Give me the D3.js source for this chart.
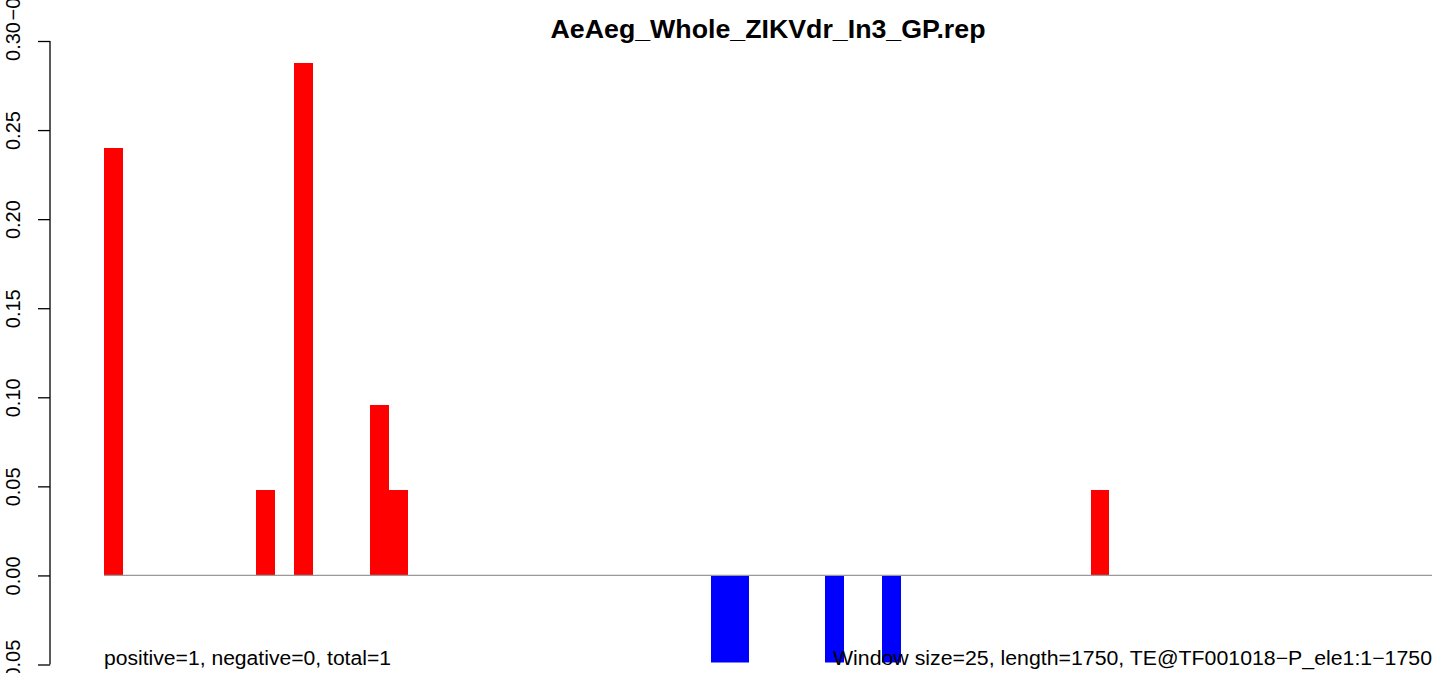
<!DOCTYPE html>
<html>
<head>
<meta charset="utf-8">
<script src="https://cdn.jsdelivr.net/npm/d3@7"></script>
<style>
  body { margin: 0; background: #fff; }
  text { font-family: "Liberation Sans", Arial, sans-serif; }
</style>
</head>
<body>
<div id="chart"></div>
<script>
var W = 1444, H = 673;

// 25bp windows along a 1750bp element (70 bins); only non-empty bins listed
var binIndex = [0, 8, 10, 14, 15, 32, 33, 38, 41, 52];
var binValue = [0.2397, 0.0479, 0.2877, 0.0959, 0.0479, -0.06, -0.06, -0.06, -0.06, 0.0479];
var nBins = 70;
var yTicks = [-0.05, 0, 0.05, 0.10, 0.15, 0.20, 0.25, 0.30];

var title = "AeAeg_Whole_ZIKVdr_In3_GP.rep";
var leftNote = "positive=1, negative=0, total=1";
var rightNote = "Window size=25, length=1750, TE@TF001018\u2212P_ele1:1\u22121750";

var svg = d3.select("#chart").append("svg")
    .attr("width", W)
    .attr("height", H);

var x = d3.scaleLinear().domain([0, nBins]).range([104, 1432]);
var y = d3.scaleLinear().domain([-0.05, 0.30]).range([664.5, 41]);

svg.append("clipPath").attr("id", "plotclip")
  .append("rect")
    .attr("x", 0).attr("y", y(0.30))
    .attr("width", W).attr("height", y(-0.05) - y(0.30) - 2);

svg.append("g")
    .attr("clip-path", "url(#plotclip)")
  .selectAll("rect")
  .data(binIndex)
  .join("rect")
    .attr("x", function (d) { return x(d); })
    .attr("width", function (d) { return x(d + 1) - x(d); })
    .attr("y", function (d, i) { return y(Math.max(0, binValue[i])); })
    .attr("height", function (d, i) { return Math.abs(y(binValue[i]) - y(0)); })
    .attr("fill", function (d, i) { return binValue[i] > 0 ? "#ff0000" : "#0000ff"; })
    .attr("shape-rendering", "crispEdges");

// zero line
svg.append("line")
    .attr("x1", x(0)).attr("x2", x(nBins))
    .attr("y1", y(0)).attr("y2", y(0))
    .attr("stroke", "#999")
    .attr("stroke-width", 1.3);

// y axis, R style
var yAxis = svg.append("g")
    .attr("transform", "translate(50,0)")
    .call(d3.axisLeft(y).tickValues(yTicks).tickSize(12).tickFormat(d3.format(".2f")));
yAxis.select(".domain").attr("d", "M0," + y(0.30) + "V" + y(-0.05)).attr("stroke-width", 1.3);
yAxis.selectAll(".tick line").attr("stroke-width", 1.3);
yAxis.selectAll(".tick text")
    .attr("font-size", 20)
    .attr("font-family", "Liberation Sans, Arial, sans-serif")
    .attr("text-anchor", "middle")
    .attr("x", 0)
    .attr("dy", 0)
    .attr("transform", "translate(-30,0) rotate(-90)")
    .text(function (d) { return d3.format(".2f")(d).replace("-", "\u2212"); });

// stray label running off the top
svg.append("text")
    .attr("transform", "translate(20," + (y(0.30) - 20.5) + ") rotate(-90)")
    .attr("font-size", 20)
    .attr("text-anchor", "start")
    .text("\u22120.05");

svg.append("text")
    .attr("x", 768).attr("y", 38)
    .attr("text-anchor", "middle")
    .attr("font-weight", "bold")
    .attr("font-size", 26)
    .attr("textLength", 435)
    .attr("lengthAdjust", "spacingAndGlyphs")
    .text(title);

svg.append("text")
    .attr("x", 104).attr("y", 665)
    .attr("font-size", 20)
    .attr("textLength", 287)
    .attr("lengthAdjust", "spacingAndGlyphs")
    .text(leftNote);

svg.append("text")
    .attr("x", 1432).attr("y", 665)
    .attr("text-anchor", "end")
    .attr("font-size", 20)
    .attr("textLength", 599)
    .attr("lengthAdjust", "spacingAndGlyphs")
    .text(rightNote);
</script>
</body>
</html>
